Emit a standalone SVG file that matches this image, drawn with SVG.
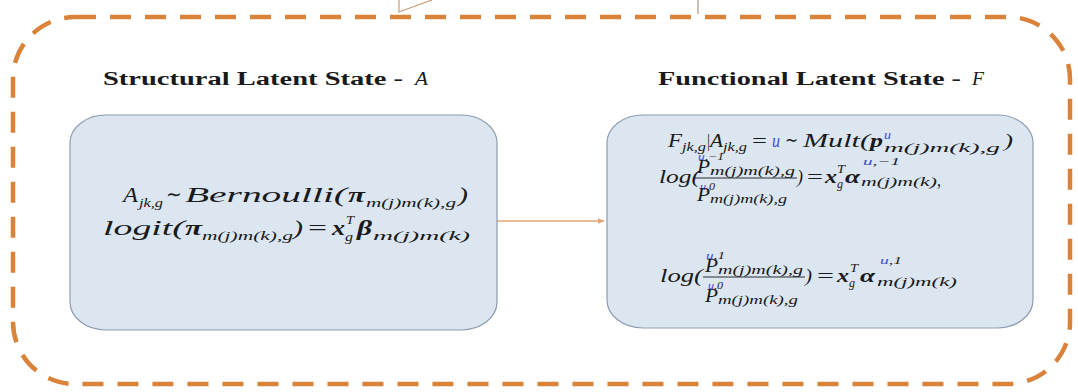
<svg xmlns="http://www.w3.org/2000/svg" width="1078" height="392" viewBox="0 0 1078 392">
<defs>
<style>
text{font-family:"Liberation Serif","Times New Roman",serif;fill:#1a1a1a;}
.t{font-size:18px;font-weight:bold;}
.tv{font-size:18px;font-style:italic;}
.m{font-size:20px;font-style:italic;}
.mb{font-size:20px;font-style:italic;font-weight:bold;}
.r{font-size:20px;}
.s{font-size:13px;font-style:italic;}
.n{font-size:18px;font-style:italic;}
.nb{font-size:18px;font-style:italic;font-weight:bold;}
.nr{font-size:18px;}
.ss{font-size:12px;font-style:italic;}
.sp{font-size:10px;font-style:italic;}
.blue{fill:#3a4fd0;}
.box{fill:#dce6f1;stroke:#8c9bb0;stroke-width:1.2;}
.frame{fill:none;stroke:#d9823a;stroke-width:4.5;stroke-dasharray:21 14;}
.conn{fill:none;stroke:#e6a574;stroke-width:1.5;}
.bar{stroke:#1a1a1a;stroke-width:0.9;}
</style>
<marker id="ah" viewBox="0 0 10 10" refX="9" refY="5" markerWidth="7" markerHeight="7" orient="auto" markerUnits="userSpaceOnUse">
<path d="M0,1 L10,5 L0,9 z" fill="#e6a574"/>
</marker>
</defs>
<rect width="1078" height="392" fill="#ffffff"/>
<g id="frame">
<rect class="frame" x="13" y="17" width="1057" height="367" rx="62" ry="62"/>
<path d="M399,0 L399,12 L432,0" fill="none" stroke="#c89a7a" stroke-width="1.2"/>
<line x1="698" y1="0" x2="698" y2="14" stroke="#a89888" stroke-width="1.2"/>
</g>
<g id="title-structural">
<text x="103" y="85" class="t" textLength="300" lengthAdjust="spacingAndGlyphs">Structural Latent State - </text>
<text x="415" y="85" class="tv" textLength="13" lengthAdjust="spacingAndGlyphs">A</text>
</g>
<g id="title-functional">
<text x="658" y="85" class="t" textLength="303" lengthAdjust="spacingAndGlyphs">Functional Latent State - </text>
<text x="972" y="85" class="tv" textLength="12" lengthAdjust="spacingAndGlyphs">F</text>
</g>
<g id="connectors">
<line class="conn" x1="497" y1="221" x2="604" y2="221" marker-end="url(#ah)"/>
</g>
<g id="structural-box">
<rect class="box" x="70" y="115" width="427" height="215" rx="36" ry="28"/>
<text x="123" y="202" class="m" textLength="15" lengthAdjust="spacingAndGlyphs">A</text>
<text x="139" y="207" class="s" textLength="24" lengthAdjust="spacingAndGlyphs">jk,g</text>
<text x="166" y="201" class="r" textLength="16" lengthAdjust="spacingAndGlyphs">∼</text>
<text x="185" y="202" class="m" textLength="162" lengthAdjust="spacingAndGlyphs">Bernoulli(</text>
<text x="348" y="202" class="mb" textLength="17" lengthAdjust="spacingAndGlyphs">π</text>
<text x="366" y="207" class="s" textLength="90" lengthAdjust="spacingAndGlyphs">m(j)m(k),g</text>
<text x="458" y="202" class="m" textLength="10" lengthAdjust="spacingAndGlyphs">)</text>
<text x="103" y="235" class="m" textLength="82" lengthAdjust="spacingAndGlyphs">logit(</text>
<text x="185" y="235" class="mb" textLength="17" lengthAdjust="spacingAndGlyphs">π</text>
<text x="202" y="240" class="s" textLength="91" lengthAdjust="spacingAndGlyphs">m(j)m(k),g</text>
<text x="293" y="235" class="m" textLength="10" lengthAdjust="spacingAndGlyphs">)</text>
<text x="308" y="235" class="r" textLength="19" lengthAdjust="spacingAndGlyphs">=</text>
<text x="332" y="235" class="mb" textLength="13" lengthAdjust="spacingAndGlyphs">x</text>
<text x="346" y="224" class="s" textLength="8" lengthAdjust="spacingAndGlyphs">T</text>
<text x="345" y="241" class="s" textLength="8" lengthAdjust="spacingAndGlyphs">g</text>
<text x="357" y="235" class="mb" textLength="15" lengthAdjust="spacingAndGlyphs">β</text>
<text x="373" y="240" class="s" textLength="97" lengthAdjust="spacingAndGlyphs">m(j)m(k)</text>
</g>
<g id="functional-box">
<rect class="box" x="607" y="115" width="426" height="213" rx="36" ry="28"/>
<text x="668" y="147" class="n" textLength="14" lengthAdjust="spacingAndGlyphs">F</text>
<text x="682" y="151" class="ss" textLength="24" lengthAdjust="spacingAndGlyphs">jk,g</text>
<text x="707" y="147" class="nr" textLength="3" lengthAdjust="spacingAndGlyphs">|</text>
<text x="710" y="147" class="n" textLength="13" lengthAdjust="spacingAndGlyphs">A</text>
<text x="723" y="151" class="ss" textLength="24" lengthAdjust="spacingAndGlyphs">jk,g</text>
<text x="752" y="147" class="nr" textLength="15" lengthAdjust="spacingAndGlyphs">=</text>
<text x="772" y="147" class="n blue" textLength="8" lengthAdjust="spacingAndGlyphs">u</text>
<text x="785" y="146" class="nr" textLength="13" lengthAdjust="spacingAndGlyphs">∼</text>
<text x="803" y="147" class="n" textLength="67" lengthAdjust="spacingAndGlyphs">Mult(</text>
<text x="870" y="147" class="nb" textLength="13" lengthAdjust="spacingAndGlyphs">p</text>
<text x="884" y="139" class="ss blue" textLength="7" lengthAdjust="spacingAndGlyphs">u</text>
<text x="884" y="152" class="s" textLength="116" lengthAdjust="spacingAndGlyphs">m(j)m(k),g</text>
<text x="1004" y="147" class="n" textLength="9" lengthAdjust="spacingAndGlyphs">)</text>

<text x="659" y="183" class="n" textLength="41" lengthAdjust="spacingAndGlyphs">log(</text>
<text x="698" y="160" class="sp" textLength="26" lengthAdjust="spacingAndGlyphs"><tspan class="blue">u</tspan>,−1</text>
<text x="697" y="173" class="n" textLength="13" lengthAdjust="spacingAndGlyphs">P</text>
<text x="710" y="175" class="ss" textLength="85" lengthAdjust="spacingAndGlyphs">m(j)m(k),g</text>
<line class="bar" x1="695" y1="178" x2="797" y2="178"/>
<text x="700" y="190" class="sp" textLength="15" lengthAdjust="spacingAndGlyphs"><tspan class="blue">u</tspan>,0</text>
<text x="697" y="201" class="n" textLength="13" lengthAdjust="spacingAndGlyphs">P</text>
<text x="710" y="203" class="ss" textLength="77" lengthAdjust="spacingAndGlyphs">m(j)m(k),g</text>
<text x="797" y="183" class="n" textLength="6" lengthAdjust="spacingAndGlyphs">)</text>
<text x="807" y="183" class="nr" textLength="16" lengthAdjust="spacingAndGlyphs">=</text>
<text x="825" y="183" class="nb" textLength="12" lengthAdjust="spacingAndGlyphs">x</text>
<text x="837" y="173" class="ss" textLength="8" lengthAdjust="spacingAndGlyphs">T</text>
<text x="837" y="188" class="ss" textLength="6" lengthAdjust="spacingAndGlyphs">g</text>
<text x="845" y="183" class="nb" textLength="15" lengthAdjust="spacingAndGlyphs">α</text>
<text x="863" y="165" class="sp" textLength="37" lengthAdjust="spacingAndGlyphs"><tspan class="blue">u</tspan>,−1</text>
<text x="861" y="186" class="ss" textLength="76" lengthAdjust="spacingAndGlyphs">m(j)m(k)</text>
<text x="937" y="186" class="n" textLength="4" lengthAdjust="spacingAndGlyphs">,</text>

<text x="660" y="282" class="n" textLength="43" lengthAdjust="spacingAndGlyphs">log(</text>
<text x="706" y="259" class="sp" textLength="19" lengthAdjust="spacingAndGlyphs"><tspan class="blue">u</tspan>,1</text>
<text x="705" y="272" class="n" textLength="13" lengthAdjust="spacingAndGlyphs">P</text>
<text x="718" y="274" class="ss" textLength="85" lengthAdjust="spacingAndGlyphs">m(j)m(k),g</text>
<line class="bar" x1="703" y1="277" x2="805" y2="277"/>
<text x="708" y="289" class="sp" textLength="15" lengthAdjust="spacingAndGlyphs"><tspan class="blue">u</tspan>,0</text>
<text x="705" y="302" class="n" textLength="13" lengthAdjust="spacingAndGlyphs">P</text>
<text x="718" y="304" class="ss" textLength="80" lengthAdjust="spacingAndGlyphs">m(j)m(k),g</text>
<text x="805" y="282" class="n" textLength="7" lengthAdjust="spacingAndGlyphs">)</text>
<text x="817" y="282" class="nr" textLength="17" lengthAdjust="spacingAndGlyphs">=</text>
<text x="837" y="282" class="nb" textLength="12" lengthAdjust="spacingAndGlyphs">x</text>
<text x="850" y="272" class="ss" textLength="8" lengthAdjust="spacingAndGlyphs">T</text>
<text x="849" y="287" class="ss" textLength="6" lengthAdjust="spacingAndGlyphs">g</text>
<text x="860" y="282" class="nb" textLength="15" lengthAdjust="spacingAndGlyphs">α</text>
<text x="880" y="264" class="sp" textLength="22" lengthAdjust="spacingAndGlyphs"><tspan class="blue">u</tspan>,1</text>
<text x="877" y="286" class="ss" textLength="80" lengthAdjust="spacingAndGlyphs">m(j)m(k)</text>
</g>
</svg>
